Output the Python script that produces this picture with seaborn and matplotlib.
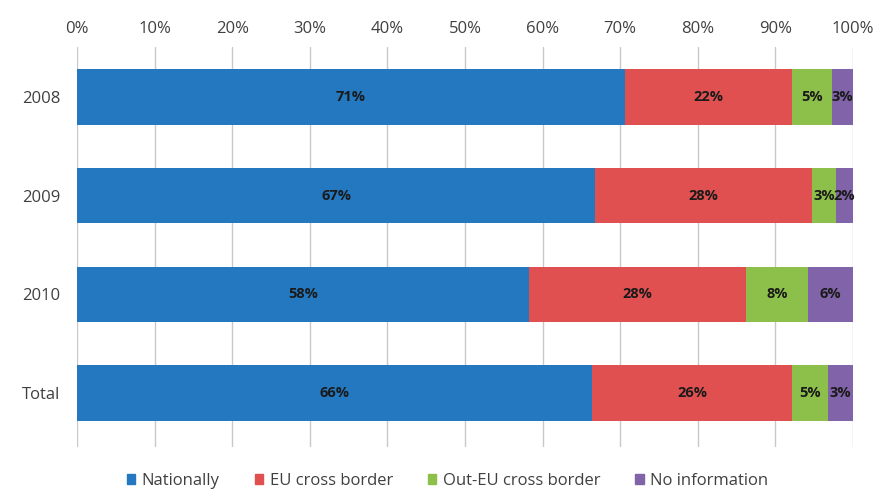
import matplotlib
matplotlib.use("Agg")
import matplotlib.pyplot as plt
import seaborn as sns
import pandas as pd
import numpy as np

categories = ["2008", "2009", "2010", "Total"]
series_names = ["Nationally", "EU cross border", "Out-EU cross border", "No information"]
nationally = [70.6, 66.8, 58.2, 66.4]
eu_cross = [21.6, 27.9, 28.0, 25.7]
out_eu_cross = [5.1, 3.1, 8.0, 4.7]
no_info = [2.7, 2.2, 5.8, 3.2]
tick_labels = [f"{v}%" for v in range(0, 101, 10)]

colors = ["#2378c0", "#e05050", "#8dc04a", "#8063a8"]

sns.set_theme(style="white")
plt.rcParams["font.family"] = ["Open Sans", "DejaVu Sans"]

fig = plt.figure(figsize=(8.83, 4.93), dpi=100)
ax = fig.add_axes([0.0872, 0.0933, 0.8788, 0.8114])

values = np.array([nationally, eu_cross, out_eu_cross, no_info])
cum = np.cumsum(values, axis=0)

# stacked bars: draw cumulative totals from the outermost segment inward
for k in range(len(series_names) - 1, -1, -1):
    df = pd.DataFrame({"category": categories, "value": cum[k]})
    sns.barplot(data=df, x="value", y="category", order=categories,
                color=colors[k], width=0.56, linewidth=0, saturation=1,
                ax=ax, zorder=3)

# segment value labels
for k in range(len(series_names)):
    for i in range(len(categories)):
        center = cum[k, i] - values[k, i] / 2
        ax.text(center, i, f"{values[k, i]:.0f}%", ha="center", va="center",
                fontsize=10.5, fontweight="bold", color="#1a1a1a", zorder=4)

ax.set_xlim(0, 100)
ax.set_ylim(len(categories) - 1 + 0.547, -0.507)
ax.xaxis.tick_top()
ax.set_xticks(range(0, 101, 10))
ax.set_xticklabels(tick_labels)
ax.tick_params(axis="both", length=0, labelsize=12, colors="#404040", pad=7)
ax.tick_params(axis="y", pad=12)
ax.set_xlabel("")
ax.set_ylabel("")
ax.grid(axis="x", color="#c8c8c8", linewidth=1, zorder=0)
for s in ax.spines.values():
    s.set_visible(False)

handles = [plt.Rectangle((0, 0), 1, 1, color=c) for c in colors]
fig.legend(handles, series_names, loc="center", bbox_to_anchor=(0.507, 0.025),
           ncol=4, frameon=False, fontsize=12, handlelength=0.5, handleheight=0.5,
           columnspacing=2.1, handletextpad=0.4, labelcolor="#404040")

fig.savefig("out.png", dpi=100)
